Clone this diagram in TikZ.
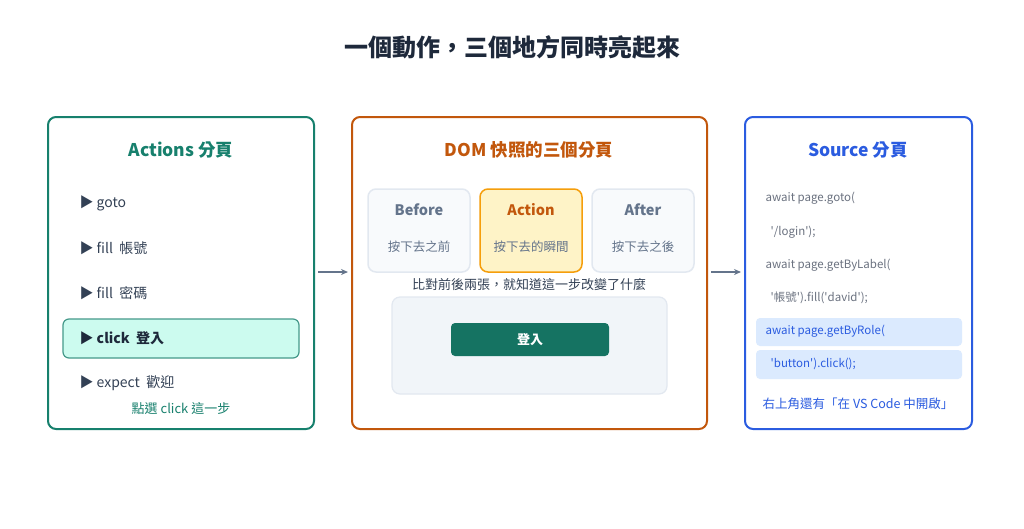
\documentclass[tikz,border=0pt]{standalone}
\usepackage{fontspec}
\setmainfont{Noto Sans CJK TC}
\usetikzlibrary{arrows.meta}
\definecolor{teal}{HTML}{17806D}
\definecolor{org}{HTML}{C2570C}
\definecolor{blu}{HTML}{2B5CE0}
\definecolor{dark}{HTML}{1E293B}
\definecolor{txt}{HTML}{334155}
\definecolor{gry}{HTML}{64748B}
\definecolor{code}{HTML}{6B7280}
\definecolor{mint}{HTML}{CCFBEF}
\definecolor{lblue}{HTML}{DBEAFE}
\definecolor{lyel}{HTML}{FEF3C7}
\definecolor{amber}{HTML}{F59E0B}
\definecolor{sl}{HTML}{E2E8F0}
\definecolor{sf}{HTML}{F8FAFC}
\definecolor{sf2}{HTML}{F1F5F9}
\newcommand{\q}{\textquotesingle}
\begin{document}
\begin{tikzpicture}[x=1pt,y=-1pt,
 panel/.style={draw,line width=2pt,rounded corners=8pt,fill=white},
 ttl/.style={font=\bfseries\fontsize{17.5}{20}\selectfont},
 item/.style={anchor=west,text=txt,font=\fontsize{14}{16}\selectfont},
 code/.style={anchor=west,text=code,font=\fontsize{11.5}{13}\selectfont},
 snap/.style={draw=#1,line width=1.5pt,rounded corners=8pt},
 arr/.style={-{Stealth[length=7pt,width=6pt]},draw=gry,line width=1.5pt}]
\useasboundingbox (0,0) rectangle (1024,528);
\node[text=dark,font=\bfseries\fontsize{24}{27}\selectfont] (title) at (512,47) {一個動作，三個地方同時亮起來};
% left
\draw[panel,draw=teal] (48,117) rectangle (314,429);
\node[ttl,text=teal] (lt) at (181,150) {Actions 分頁};
\node[item] (i1) at (76,203) {▶ goto};
\node[item] (i2) at (76,248) {▶ fill\ \ 帳號};
\node[item] (i3) at (76,293) {▶ fill\ \ 密碼};
\draw[draw=teal!80,fill=mint,line width=1.2pt,rounded corners=6pt] (63,319) rectangle (299,358);
\node[item,text=dark,font=\bfseries\fontsize{14}{16}\selectfont] (i4) at (76,338) {▶ click\ \ 登入};
\node[item] (i5) at (76,383) {▶ expect\ \ 歡迎};
\node[text=teal,font=\fontsize{13}{15}\selectfont] (ln) at (181,408) {點選 click 這一步};
% middle
\draw[panel,draw=org] (352,117) rectangle (707,429);
\node[ttl,text=org] (mt) at (529,150) {DOM 快照的三個分頁};
\draw[snap=sl,fill=sf] (368,189) rectangle (470,272);
\draw[snap=amber,fill=lyel] (480,189) rectangle (582,272);
\draw[snap=sl,fill=sf] (592,189) rectangle (694,272);
\node[text=gry,font=\bfseries\fontsize{14.5}{16}\selectfont] (b1) at (419,210) {Before};
\node[text=org,font=\bfseries\fontsize{14.5}{16}\selectfont] (b2) at (531,210) {Action};
\node[text=gry,font=\bfseries\fontsize{14.5}{16}\selectfont] (b3) at (643,210) {After};
\node[text=gry,font=\fontsize{12.5}{14}\selectfont] (s1) at (419,247) {按下去之前};
\node[text=gry,font=\fontsize{12.5}{14}\selectfont] (s2) at (531,247) {按下去的瞬間};
\node[text=gry,font=\fontsize{12.5}{14}\selectfont] (s3) at (643,247) {按下去之後};
\node[text=txt,font=\fontsize{13}{15}\selectfont] (cap) at (529,285) {比對前後兩張，就知道這一步改變了什麼};
\draw[draw=sl,fill=sf2,line width=1.2pt,rounded corners=8pt] (392,297) rectangle (667,394);
\draw[fill=teal!90!black,draw=none,rounded corners=4pt] (451,323) rectangle (609,356);
\node[text=white,font=\bfseries\fontsize{13}{15}\selectfont] (btn) at (530,339.5) {登入};
% right
\draw[panel,draw=blu] (745,117) rectangle (972,429);
\node[ttl,text=blu] (rt) at (858,150) {Source 分頁};
\node[code] (c1) at (762,198) {await page.goto(};
\node[code] (c2) at (762,232) {\ \ \q/login\q);};
\node[code] (c3) at (762,265) {await page.getByLabel(};
\node[code] (c4) at (762,298) {\ \ \q 帳號\q).fill(\q david\q);};
\fill[lblue,rounded corners=4pt] (756,318) rectangle (962,346);
\fill[lblue,rounded corners=4pt] (756,350) rectangle (962,379);
\node[code,text=blu] (c5) at (762,331) {await page.getByRole(};
\node[code,text=blu] (c6) at (762,364) {\ \ \q button\q).click();};
\node[text=blu,font=\fontsize{12.5}{14}\selectfont] (rn) at (858,404) {右上角還有「在 VS Code 中開啟」};
\coordinate (a1) at (318,272); \coordinate (a2) at (348,272);
\coordinate (a3) at (711,272); \coordinate (a4) at (741,272);
\draw[arr] (a1) -- (a2);
\draw[arr] (a3) -- (a4);
\end{tikzpicture}
\end{document}
